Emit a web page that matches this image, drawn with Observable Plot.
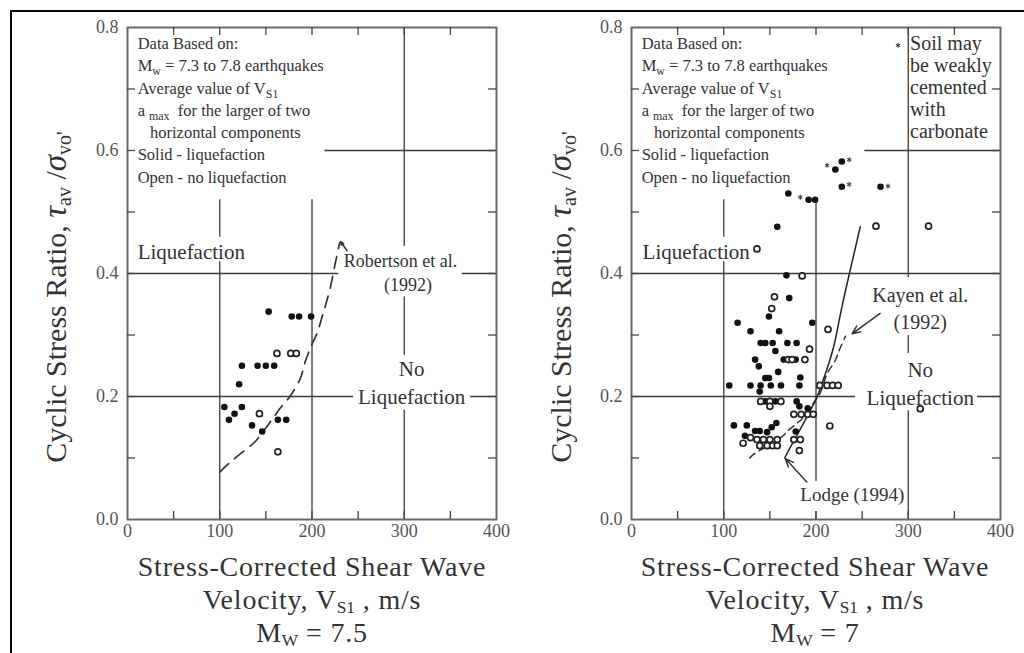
<!DOCTYPE html>
<html><head><meta charset="utf-8">
<script src="https://cdn.jsdelivr.net/npm/d3@7"></script>
<script src="https://cdn.jsdelivr.net/npm/@observablehq/plot@0.6"></script>
<style>
body{margin:0;background:#fff;}
#wrap{position:relative;width:1024px;height:653px;overflow:hidden;font-family:"Liberation Serif","Times New Roman",serif;color:#333;background:#fff;}
.border{position:absolute;left:10px;top:10px;width:1200px;height:800px;border-top:2px solid #000;border-left:2px solid #000;z-index:5;pointer-events:none;}
.plot{position:absolute;top:0;}
.ytitle{position:absolute;width:460px;height:36px;line-height:36px;text-align:center;font-size:30px;transform:rotate(-90deg);white-space:nowrap;color:#333;}
.ytitle i{font-size:33px;}
.ytitle .s{font-size:20px;position:relative;top:5px;}
.xl{position:absolute;width:520px;height:32px;line-height:32px;text-align:center;font-size:28px;letter-spacing:0.8px;color:#333;white-space:nowrap;}
.xl sub{font-size:62%;vertical-align:baseline;position:relative;top:0.25em;line-height:0;letter-spacing:0;}
</style>
</head><body>
<div id="wrap">
  <div class="border"></div>
</div>
<script>
// ---------------- data ----------------
const xMajor = [0, 100, 200, 300, 400];
const yMajor = [0, 0.2, 0.4, 0.6, 0.8];
const xGrid = [100, 200, 300];
const yGrid = [0.2, 0.4, 0.6];
const xMinor = [50, 100, 150, 200, 250, 300, 350];
const yMinor = [0.1, 0.2, 0.3, 0.4, 0.5, 0.6, 0.7];

// Left panel (Mw = 7.5): [Vs1 (m/s), CSR]
const leftLiq = [[153,0.338],[178,0.330],[186,0.330],[199,0.330],[124,0.250],[141,0.250],[150,0.250],[159,0.250],[121,0.220],[105,0.183],[124,0.183],[116,0.172],[110,0.162],[135,0.153],[146,0.143],[163,0.162],[172,0.162]];
const leftNoLiq = [[162,0.270],[177,0.270],[183,0.270],[143,0.172],[163,0.110]];
const robertson1992 = [[100,0.077],[112,0.094],[125,0.110],[138,0.126],[147,0.143],[158,0.165],[165,0.180],[176,0.200],[187,0.228],[193,0.258],[200,0.285],[206,0.305],[211,0.330],[215,0.350],[220,0.378],[225,0.415],[230,0.450]];

// Right panel (Mw = 7)
const rightLiq = [[228,0.582],[221,0.569],[228,0.541],[170,0.530],[192,0.520],[199,0.520],[270,0.541],[158,0.476],[168,0.397],[171,0.360],[196,0.320],[115,0.320],[149,0.330],[129,0.306],[160,0.306],[140,0.287],[145,0.287],[153,0.287],[169,0.287],[179,0.287],[156,0.274],[134,0.260],[165,0.260],[178,0.260],[138,0.249],[159,0.240],[145,0.230],[149,0.230],[183,0.231],[106,0.218],[129,0.218],[140,0.218],[151,0.218],[162,0.218],[182,0.218],[139,0.208],[145,0.192],[156,0.192],[179,0.192],[182,0.184],[191,0.181],[111,0.153],[125,0.153],[157,0.157],[152,0.150],[134,0.144],[139,0.144],[147,0.142],[178,0.143],[123,0.136]];
const rightNoLiq = [[136,0.440],[185,0.396],[155,0.362],[152,0.343],[265,0.477],[322,0.477],[213,0.309],[193,0.277],[170,0.260],[174,0.260],[188,0.260],[204,0.218],[212,0.218],[218,0.218],[224,0.218],[140,0.192],[150,0.192],[162,0.192],[150,0.184],[176,0.171],[184,0.171],[191,0.171],[197,0.171],[215,0.152],[313,0.180],[129,0.133],[136,0.130],[143,0.130],[150,0.130],[158,0.130],[176,0.130],[183,0.130],[121,0.124],[139,0.120],[147,0.120],[153,0.120],[158,0.120],[182,0.112]];
const rightCemented = [[236,0.585],[212,0.576],[236,0.545],[183,0.524],[278,0.542],[289,0.771]];
const kayen1992 = [[128,0.100],[134,0.108],[152,0.123],[165,0.137],[170,0.145],[179,0.156],[185,0.164],[199,0.193],[205,0.207],[212,0.237],[221,0.259],[226,0.278],[232,0.298]];
const lodge1994 = [[166,0.100],[176,0.128],[183,0.147],[192,0.172],[201,0.199],[205,0.215],[212,0.245],[219,0.280],[228,0.345],[237,0.405],[248,0.476]];

// axis titles
const xTitleLines = ["Stress-Corrected Shear Wave", "Velocity, V<sub>S1</sub> , m/s"];
const magnitudes = ["M<sub>W</sub> = 7.5", "M<sub>W</sub> = 7"];
const yTitle = "Cyclic Stress Ratio, <i>τ</i><span class='s'>av</span> /<i>σ</i><span class='s'>vo'</span>";

// annotation texts (data-space anchors)
const legendText = "Data Based on:\nM_{w} = 7.3 to 7.8 earthquakes\nAverage value of V_{S1}\na\u00a0_{max}\u00a0\u00a0for the larger of two\n\u00a0\u00a0\u00a0horizontal components\nSolid - liquefaction\nOpen - no liquefaction";
const leftNotes = [
  {x:11, y:0.668, t:legendText, a:"start", fs:16.5, lh:1.35},
  {x:11, y:0.439, t:"Liquefaction", a:"start", fs:21, lh:1.4},
  {x:296, y:0.424, t:"Robertson et al.", a:"middle", fs:18, lh:1.4},
  {x:304, y:0.384, t:"(1992)", a:"middle", fs:18, lh:1.4},
  {x:308, y:0.225, t:"No\nLiquefaction", a:"middle", fs:21, lh:1.33}
];
const rightNotes = [
  {x:11, y:0.668, t:legendText, a:"start", fs:16.5, lh:1.35},
  {x:12, y:0.439, t:"Liquefaction", a:"start", fs:21, lh:1.4},
  {x:313, y:0.346, t:"Kayen et al.\n(1992)", a:"middle", fs:20, lh:1.35},
  {x:313, y:0.223, t:"No\nLiquefaction", a:"middle", fs:21, lh:1.33},
  {x:183, y:0.044, t:"Lodge (1994)", a:"start", fs:19, lh:1.4},
  {x:302, y:0.703, t:"Soil may\nbe weakly\ncemented\nwith\ncarbonate", a:"start", fs:20, lh:1.1}
];
const leftBoxes = [
  {x1:0, x2:214, y1:0.52, y2:0.8},
  {x1:5, x2:137, y1:0.419, y2:0.459},
  {x1:229, x2:363, y1:0.362, y2:0.444},
  {x1:245, x2:372, y1:0.178, y2:0.267}
];
const rightBoxes = [
  {x1:0, x2:253, y1:0.52, y2:0.8},
  {x1:5, x2:132, y1:0.419, y2:0.459},
  {x1:254, x2:373, y1:0.299, y2:0.393},
  {x1:243, x2:375, y1:0.177, y2:0.27},
  {x1:180, x2:297, y1:0.013, y2:0.062}
];
const leftArrows = [{x1:238, y1:0.437, x2:231, y2:0.452}];
const rightArrows = [{x1:269.5, y1:0.335, x2:239, y2:0.302},{x1:190, y1:0.061, x2:166.7, y2:0.099}];

// ---------------- drawing ----------------
const W = 512, H = 560, MT = 27, MB = 41;
const FONT = "'Liberation Serif', 'Times New Roman', serif";
const NS = "http://www.w3.org/2000/svg";

function notesMarks(notes){
  return notes.map(n => Plot.text([n], {x:"x", y:"y", text:"t", textAnchor:n.a, lineAnchor:"middle",
    fontSize:n.fs, lineHeight:n.lh, fontFamily:FONT, fill:"#333"}));
}

function panel(o){
  const innerH = H - MT - MB;
  const innerW = W - o.ml - o.mr;
  return Plot.plot({
    width: W, height: H,
    marginLeft: o.ml, marginRight: o.mr, marginTop: MT, marginBottom: MB,
    style: {background:"transparent", fontFamily:FONT, fontSize:"18px", color:"#555", overflow:"visible"},
    x: {domain:[0,400], ticks:xMajor, tickSize:0, tickPadding:5, label:null},
    y: {domain:[0,0.8], ticks:yMajor, tickFormat:d3.format(".1f"), tickSize:0, tickPadding:9, label:null},
    marks: [
      Plot.ruleX(xGrid, {x:d=>d, stroke:"#3a3a3a", strokeWidth:1.3}),
      Plot.ruleY(yGrid, {y:d=>d, stroke:"#3a3a3a", strokeWidth:1.3}),
      Plot.rect(o.boxes, {x1:"x1", x2:"x2", y1:"y1", y2:"y2", fill:"white"}),
      Plot.frame({stroke:"#6a6a6a", strokeWidth:2}),
      Plot.tickX(xMinor, {x:d=>d, insetTop:innerH-8, stroke:"#444", strokeWidth:1.3}),
      Plot.tickX(xMinor, {x:d=>d, insetBottom:innerH-8, stroke:"#444", strokeWidth:1.3}),
      Plot.tickY(yMinor, {y:d=>d, insetRight:innerW-8, stroke:"#444", strokeWidth:1.3}),
      Plot.tickY(yMinor, {y:d=>d, insetLeft:innerW-8, stroke:"#444", strokeWidth:1.3}),
      ...o.curves,
      Plot.arrow(o.arrows, {x1:"x1", y1:"y1", x2:"x2", y2:"y2", stroke:"#333", strokeWidth:1.5, headLength:9, headAngle:45}),
      ...notesMarks(o.notes),
      Plot.dot(o.solid, {x:d=>d[0], y:d=>d[1], r:3.3, fill:"#111", stroke:"none"}),
      Plot.dot(o.open, {x:d=>d[0], y:d=>d[1], r:3, fill:"white", stroke:"#222", strokeWidth:1.7}),
      ...(o.stars ? [Plot.dot(o.stars, {x:d=>d[0], y:d=>d[1], symbol:"asterisk", r:2.4, stroke:"#333", strokeWidth:1})] : [])
    ]
  });
}

function applySubs(svg){
  const SH = 4;
  svg.querySelectorAll("text").forEach(t => {
    const spans = t.querySelectorAll("tspan");
    const nodes = spans.length ? [...spans] : [t];
    nodes.forEach(node => {
      const s = node.textContent;
      if (!s.includes("_{")) return;
      node.textContent = "";
      const re = /_\{([^}]*)\}/g;
      let last = 0, m, shifted = false;
      while ((m = re.exec(s))) {
        if (m.index > last) {
          const ts = document.createElementNS(NS, "tspan");
          ts.textContent = s.slice(last, m.index);
          if (shifted) { ts.setAttribute("dy", -SH); shifted = false; }
          node.appendChild(ts);
        }
        const sub = document.createElementNS(NS, "tspan");
        sub.textContent = m[1];
        sub.setAttribute("font-size", "72%");
        sub.setAttribute("dy", SH);
        shifted = true;
        node.appendChild(sub);
        last = re.lastIndex;
      }
      const ts = document.createElementNS(NS, "tspan");
      ts.textContent = s.slice(last) || "\u00a0";
      if (shifted) ts.setAttribute("dy", -SH);
      node.appendChild(ts);
    });
  });
}

const wrap = document.getElementById("wrap");

const left = panel({
  ml:127, mr:16, boxes:leftBoxes, notes:leftNotes, arrows:leftArrows,
  solid:leftLiq, open:leftNoLiq,
  curves:[Plot.line(robertson1992, {x:d=>d[0], y:d=>d[1], stroke:"#333", strokeWidth:1.7, strokeDasharray:"12,8", curve:"catmull-rom"})]
});
const right = panel({
  ml:119, mr:24, boxes:rightBoxes, notes:rightNotes, arrows:rightArrows,
  solid:rightLiq, open:rightNoLiq, stars:rightCemented,
  curves:[
    Plot.line(kayen1992, {x:d=>d[0], y:d=>d[1], stroke:"#333", strokeWidth:1.5, strokeDasharray:"7,5", curve:"catmull-rom"}),
    Plot.line(lodge1994, {x:d=>d[0], y:d=>d[1], stroke:"#222", strokeWidth:1.5, curve:"catmull-rom"})
  ]
});
[left, right].forEach((svg, i) => {
  applySubs(svg);
  svg.classList.add("plot");
  svg.style.position = "absolute";
  svg.style.left = (i * 512) + "px";
  svg.style.top = "0px";
  wrap.appendChild(svg);
});

function addHTML(html){ const d = document.createElement("div"); d.innerHTML = html; wrap.appendChild(d.firstElementChild); }
addHTML(`<div class="ytitle" style="left:-175px;top:279px">${yTitle}</div>`);
addHTML(`<div class="ytitle" style="left:330px;top:279px">${yTitle}</div>`);
[312, 815].forEach((cx, i) => {
  const lines = [...xTitleLines, magnitudes[i]];
  lines.forEach((ln, j) => {
    addHTML(`<div class="xl" style="left:${cx - 260}px;top:${551 + j * 33}px">${ln}</div>`);
  });
});
</script>
</body></html>
